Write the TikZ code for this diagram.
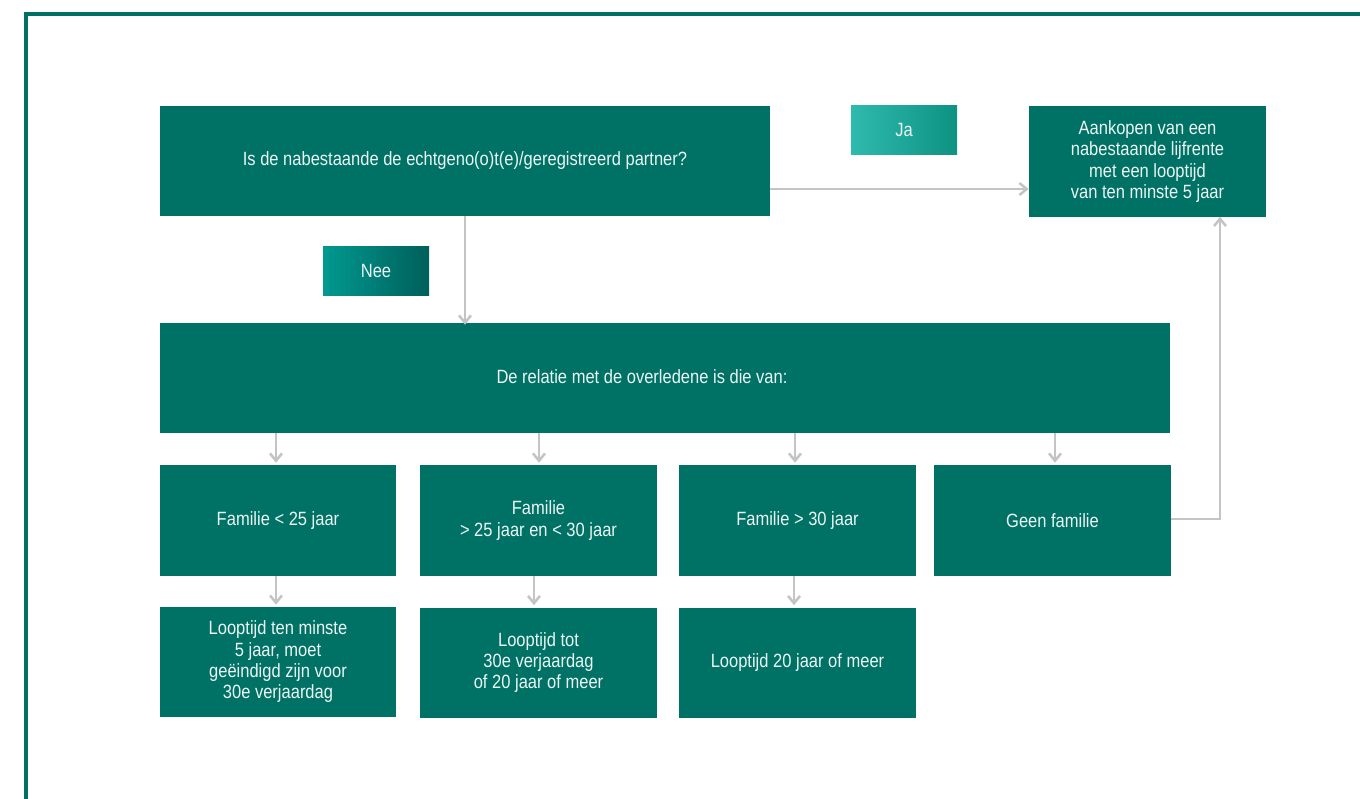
\documentclass[tikz,border=0pt]{standalone}
\usepackage{fontspec}
\setmainfont{Liberation Sans}[FakeStretch=0.86]
\usetikzlibrary{arrows.meta,shadings}
\definecolor{tealbox}{RGB}{0,113,101}
\definecolor{frameteal}{RGB}{0,112,100}
\definecolor{arrgrey}{RGB}{196,196,196}
\definecolor{jaL}{RGB}{46,186,174}
\definecolor{jaR}{RGB}{14,146,130}
\definecolor{neeL}{RGB}{0,153,144}
\definecolor{neeR}{RGB}{0,95,90}
\definecolor{boxtext}{RGB}{236,246,244}
\tikzset{
  box/.style={fill=tealbox, text=boxtext, inner sep=0pt, align=center,
    font=\fontsize{14.4}{16}\selectfont, minimum width=177.5pt, minimum height=82.5pt},
  tag/.style={inner sep=0pt, text=boxtext, align=center,
    font=\fontsize{14.4}{16}\selectfont, minimum width=79.5pt, minimum height=36pt},
  arr/.style={draw=arrgrey, line width=1.9pt, -{Straight Barb[length=5.5pt,width=9pt]}},
  link/.style={draw=arrgrey, line width=1.9pt}
}
\begin{document}
\begin{tikzpicture}[x=0.75pt,y=-0.75pt]
\useasboundingbox (0,0) rectangle (1360,799);
% frame
\draw[frameteal, line width=2.4pt] (26,805) -- (26,14) -- (1365,14);
% top row
\node[box, minimum width=457.5pt] (q1) at (465,161) {Is de nabestaande de echtgeno(o)t(e)/geregistreerd partner?};
\node[tag, left color=jaL, right color=jaR] (ja) at (904,130) {Ja};
\node[box, minimum width=177.75pt] (res) at (1147.5,161.5) {Aankopen van een\\nabestaande lijfrente\\met een looptijd\\van ten minste 5 jaar};
\node[tag, left color=neeL, right color=neeR, minimum height=36.75pt] (nee) at (376,270.5) {Nee};
% relation box
\node[box, minimum width=757.5pt] (rel) at (665,378) {};
\node[text=boxtext, inner sep=0pt, font=\fontsize{14.4}{16}\selectfont] (reltext) at (642,377) {De relatie met de overledene is die van:};
% row 2
\node[box, minimum height=83.25pt] (f1) at (278,520.5) {Familie < 25 jaar};
\node[box, minimum height=83.25pt] (f2) at (538.5,520.5) {Familie\\> 25 jaar en < 30 jaar};
\node[box, minimum height=83.25pt] (f3) at (797.5,520.5) {Familie > 30 jaar};
\node[box, minimum height=83.25pt] (f4) at (1052.5,520.5) {Geen familie};
% row 3
\node[box] (l1) at (278,662) {Looptijd ten minste\\5 jaar, moet\\geëindigd zijn voor\\30e verjaardag};
\node[box] (l2) at (538.5,662.5) {Looptijd tot\\30e verjaardag\\of 20 jaar of meer};
\node[box] (l3) at (797.5,662.5) {Looptijd 20 jaar of meer};
% connectors
\coordinate (qa) at (770,189);
\draw[arr] (q1.east |- qa) -- (res.west |- qa);
\coordinate (qb) at (465,0);
\draw[arr] (q1.south -| qb) -- ([yshift=-1.5pt]rel.north -| qb);
\foreach \n/\x in {f1/276, f2/539, f3/795, f4/1055}{
  \coordinate (c\n) at (\x,0);
  \draw[arr] (rel.south -| c\n) -- ([yshift=1.5pt]\n.north -| c\n);
}
\foreach \a/\b/\x in {f1/l1/276, f2/l2/534, f3/l3/794}{
  \coordinate (d\a) at (\x,0);
  \draw[arr] (\a.south -| d\a) -- ([yshift=1.5pt]\b.north -| d\a);
}
\coordinate (bend) at (1220,519);
\draw[arr] (f4.east |- bend) -- (bend) -- (res.south -| bend);
\end{tikzpicture}
\end{document}
